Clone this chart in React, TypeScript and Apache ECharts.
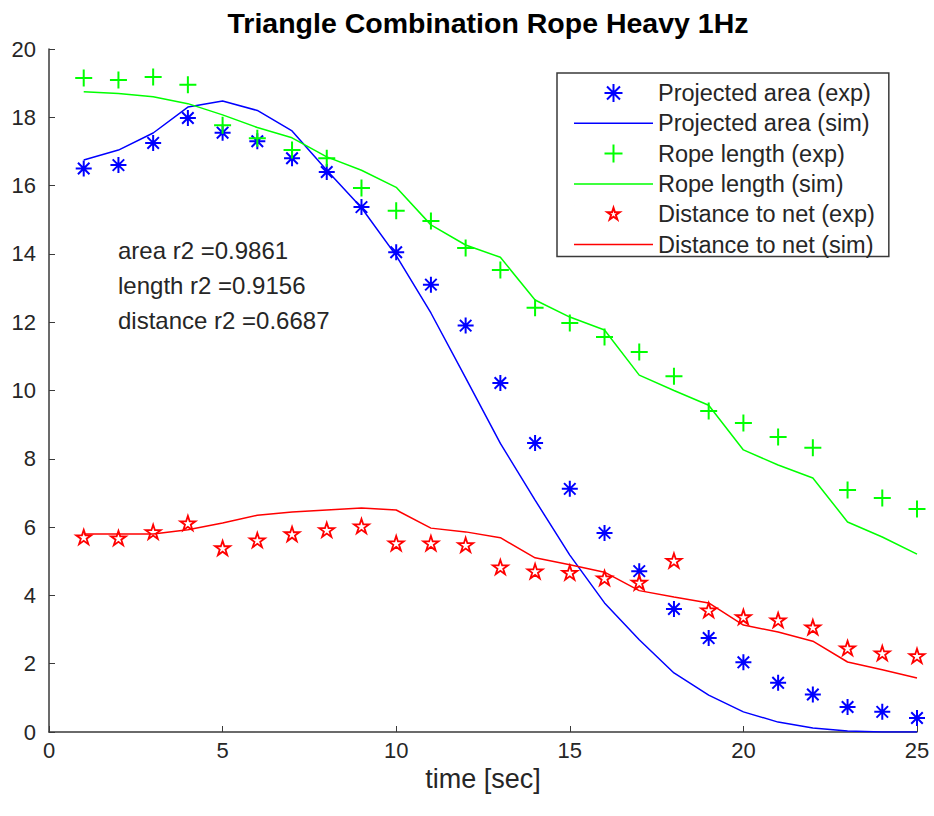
import React, { useEffect, useRef } from "react";
import * as echarts from "echarts";

const titleText = "Triangle Combination Rope Heavy 1Hz";
const xAxisName = "time [sec]";
const time = [1, 2, 3, 4, 5, 6, 7, 8, 9, 10, 11, 12, 13, 14, 15, 16, 17, 18, 19, 20, 21, 22, 23, 24, 25];
const areaExp = [16.5, 16.6, 17.25, 17.98, 17.55, 17.3, 16.8, 16.4, 15.37, 14.05, 13.1, 11.9, 10.22, 8.46, 7.12, 5.83, 4.71, 3.6, 2.75, 2.04, 1.44, 1.1, 0.73, 0.59, 0.41];
const areaSim = [16.75, 17.04, 17.54, 18.3, 18.48, 18.2, 17.6, 16.45, 15.35, 13.95, 12.27, 10.37, 8.45, 6.79, 5.18, 3.78, 2.7, 1.73, 1.08, 0.59, 0.29, 0.12, 0.03, 0.0, 0.0];
const lengthExp = [19.15, 19.09, 19.18, 18.95, 17.77, 17.39, 17.04, 16.8, 15.93, 15.26, 14.96, 14.17, 13.53, 12.42, 11.98, 11.57, 11.13, 10.42, 9.4, 9.05, 8.64, 8.32, 7.09, 6.85, 6.53];
const lengthSim = [18.75, 18.7, 18.6, 18.4, 18.07, 17.7, 17.4, 16.84, 16.45, 15.95, 14.85, 14.26, 13.9, 12.65, 12.15, 11.77, 10.45, 10.0, 9.57, 8.26, 7.82, 7.44, 6.15, 5.71, 5.21];
const distExp = [5.71, 5.68, 5.86, 6.12, 5.39, 5.62, 5.8, 5.92, 6.03, 5.53, 5.53, 5.48, 4.83, 4.71, 4.67, 4.51, 4.38, 5.02, 3.57, 3.37, 3.28, 3.07, 2.46, 2.31, 2.23];
const distSim = [5.8, 5.8, 5.8, 5.92, 6.12, 6.35, 6.44, 6.5, 6.56, 6.5, 5.97, 5.86, 5.69, 5.1, 4.9, 4.68, 4.14, 3.95, 3.78, 3.13, 2.93, 2.66, 2.05, 1.82, 1.58];
const seriesNames = [
  "Projected area (exp)",
  "Projected area (sim)",
  "Rope length (exp)",
  "Rope length (sim)",
  "Distance to net (exp)",
  "Distance to net (sim)",
];
const annotations = ["area r2 =0.9861", "length r2 =0.9156", "distance r2 =0.6687"];
const xTicks = { min: 0, max: 25, interval: 5 };
const yTicks = { min: 0, max: 20, interval: 2 };

const FONT = "'Liberation Sans', Arial, Helvetica, sans-serif";
const TXT = "#262626";
const AX = "#3a3a3a";
const BLUE = "#0000ff";
const GREEN = "#00ff00";
const RED = "#ff0000";

const STAR_D =
  "M0,-1L0.2245,-0.309L0.951,-0.309L0.363,0.118L0.588,0.809L0,0.382L-0.588,0.809L-0.363,0.118L-0.951,-0.309L-0.2245,-0.309Z";
const ASTERISK = "path://M0,-1L0,1M-1,0L1,0M-0.72,-0.72L0.72,0.72M-0.72,0.72L0.72,-0.72";
const PLUS = "path://M0,-1L0,1M-1,0L1,0";
const STAR = "path://" + STAR_D;
// legend icons sized within the 79x18 legend box
const STAR_ICON = "path://M-6.08,-1.385L-6.079,-1.385M6.079,1.385L6.08,1.385" + STAR_D;
const LINE_ICON = "path://M0,0L0.01,0M0,8.25L79,8.25L79,9.75L0,9.75ZM79,18L78.99,18";

function pairs(ys: number[]) {
  return time.map((t, i) => [t, ys[i]]);
}

export default function App() {
  const ref = useRef<HTMLDivElement>(null);
  useEffect(() => {
    if (!ref.current) return;
    const chart = echarts.init(ref.current, undefined, { renderer: "svg" });
    const scatter = (name: string, ys: number[], symbol: string, color: string, size: number, bw: number) => ({
      name,
      type: "scatter",
      data: pairs(ys),
      symbol,
      symbolSize: size,
      symbolKeepAspect: true,
      itemStyle: { color: "rgba(0,0,0,0)", borderColor: color, borderWidth: bw, opacity: 1 },
      z: 3,
    });
    const line = (name: string, ys: number[], color: string) => ({
      name,
      type: "line",
      data: pairs(ys),
      symbol: "none",
      showSymbol: false,
      lineStyle: { color, width: 1.5 },
      itemStyle: { color },
      z: 2,
    });
    chart.setOption({
      animation: false,
      backgroundColor: "#ffffff",
      textStyle: { fontFamily: FONT },
      title: {
        text: titleText,
        left: 483,
        textAlign: "center",
        top: 3,
        textStyle: { fontFamily: FONT, fontSize: 28.5, fontWeight: "bold", color: "#000" },
      },
      grid: { left: 49, right: 17, top: 49, bottom: 84, containLabel: false },
      xAxis: {
        type: "value",
        min: xTicks.min,
        max: xTicks.max,
        interval: xTicks.interval,
        name: xAxisName,
        nameLocation: "middle",
        nameGap: 23,
        nameTextStyle: { fontFamily: FONT, fontSize: 27, color: TXT, verticalAlign: "top" },
        axisLine: { lineStyle: { color: AX, width: 1.5 } },
        axisTick: { inside: true, length: 6, lineStyle: { color: AX } },
        axisLabel: { fontFamily: FONT, fontSize: 22, color: TXT, margin: 7 },
        splitLine: { show: false },
      },
      yAxis: {
        type: "value",
        min: yTicks.min,
        max: yTicks.max,
        interval: yTicks.interval,
        axisLine: { show: true, lineStyle: { color: AX, width: 1.5 } },
        axisTick: { show: true, inside: true, length: 6, lineStyle: { color: AX } },
        axisLabel: { fontFamily: FONT, fontSize: 22, color: TXT, margin: 13 },
        splitLine: { show: false },
      },
      legend: {
        orient: "vertical",
        left: 557,
        top: 73,
        data: seriesNames.map((n, i) =>
          i % 2 === 1 ? { name: n, icon: LINE_ICON } : i === 4 ? { name: n, icon: STAR_ICON } : { name: n }
        ),
        backgroundColor: "#fff",
        borderColor: AX,
        borderWidth: 1.5,
        borderRadius: 0,
        padding: [8, 14, 0, 16],
        itemWidth: 79,
        itemHeight: 18,
        itemGap: 6.3,
        itemTextGap: 10,
        textStyle: { fontFamily: FONT, fontSize: 23.5, color: TXT },
      },
      graphic: annotations.map((t, i) => ({
        type: "text",
        left: 118,
        top: 238 + i * 35,
        style: { text: t, font: `24px ${FONT}`, fill: TXT },
      })),
      series: [
        scatter(seriesNames[0], areaExp, ASTERISK, BLUE, 16, 2),
        line(seriesNames[1], areaSim, BLUE),
        scatter(seriesNames[2], lengthExp, PLUS, GREEN, 17, 2),
        line(seriesNames[3], lengthSim, GREEN),
        scatter(seriesNames[4], distExp, STAR, RED, 15, 1.8),
        line(seriesNames[5], distSim, RED),
      ],
    });
    return () => chart.dispose();
  }, []);
  return <div ref={ref} style={{ width: 934, height: 816, position: "absolute", left: 0, top: 0 }} />;
}
